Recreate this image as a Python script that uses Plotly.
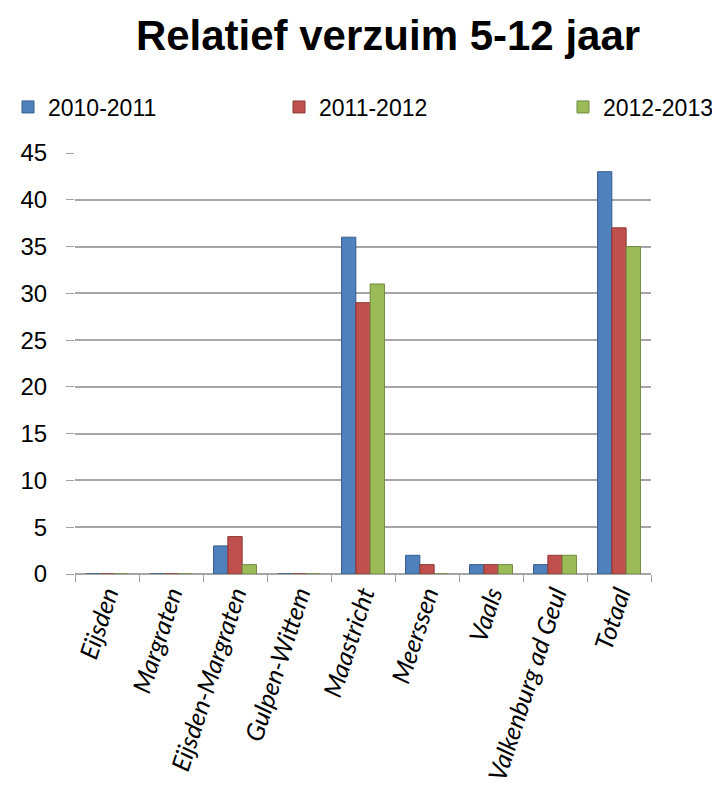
import plotly.graph_objects as go

categories = ["Eijsden", "Margraten", "Eijsden-Margraten", "Gulpen-Wittem", "Maastricht",
              "Meerssen", "Vaals", "Valkenburg ad Geul", "Totaal"]
series_names = ["2010-2011", "2011-2012", "2012-2013"]
v_2010_2011 = [0, 0, 3, 0, 36, 2, 1, 1, 43]
v_2011_2012 = [0, 0, 4, 0, 29, 1, 1, 2, 37]
v_2012_2013 = [0, 0, 1, 0, 31, 0, 1, 2, 35]
y_ticks = [0, 5, 10, 15, 20, 25, 30, 35, 40, 45]

colors = ["#4f81bd", "#c0504d", "#9bbb59"]
edge = ["#385d8a", "#8c3836", "#71893f"]
legend_ids = ["legend", "legend2", "legend3"]
legend_x_px = [0, 271, 555]

fig = go.Figure()
for name, vals, c, e, lg in zip(series_names, [v_2010_2011, v_2011_2012, v_2012_2013],
                                colors, edge, legend_ids):
    fig.add_trace(go.Bar(x=categories, y=vals, name=name, legend=lg, showlegend=True,
                         marker=dict(color=c, line=dict(color=e, width=1))))

legend_common = dict(orientation="h", xref="container", yref="container",
                     y=1 - 99 / 796, xanchor="left", yanchor="middle",
                     bgcolor="rgba(0,0,0,0)", borderwidth=0, visible=True,
                     font=dict(family="Liberation Sans", size=23, color="black"),
                     itemclick=False)
legends = {lg: dict(legend_common, x=px / 720) for lg, px in zip(legend_ids, legend_x_px)}

fig.update_layout(
    width=720, height=796, showlegend=True,
    paper_bgcolor="white", plot_bgcolor="white",
    margin=dict(l=67, r=77, t=145, b=230, autoexpand=False),
    barmode="group", bargap=0.33, bargroupgap=0,
    title=dict(text="<b>Relatief verzuim 5-12 jaar</b>", x=380 / 720, xanchor="center",
               y=1 - 27 / 796, yanchor="middle", automargin=False,
               font=dict(family="Liberation Sans", size=42, color="black")),
    **legends,
    xaxis=dict(range=[-0.5, 8.5], tickangle=-72, showgrid=False,
               ticks="outside", ticklen=7, tickcolor="#a0a0a0", tickson="boundaries",
               showline=False, automargin=False,
               tickfont=dict(family="Lato", size=25, color="black", style="italic")),
    yaxis=dict(range=[0, 45], tickvals=y_ticks, showgrid=True,
               gridcolor="#a6a6a6", gridwidth=2, zeroline=True,
               zerolinecolor="#a6a6a6", zerolinewidth=2, automargin=False,
               ticks="outside", ticklen=8, tickcolor="#a0a0a0", ticklabelstandoff=14,
               tickfont=dict(family="Liberation Sans", size=24, color="black")),
)

fig.write_html("out.html")
